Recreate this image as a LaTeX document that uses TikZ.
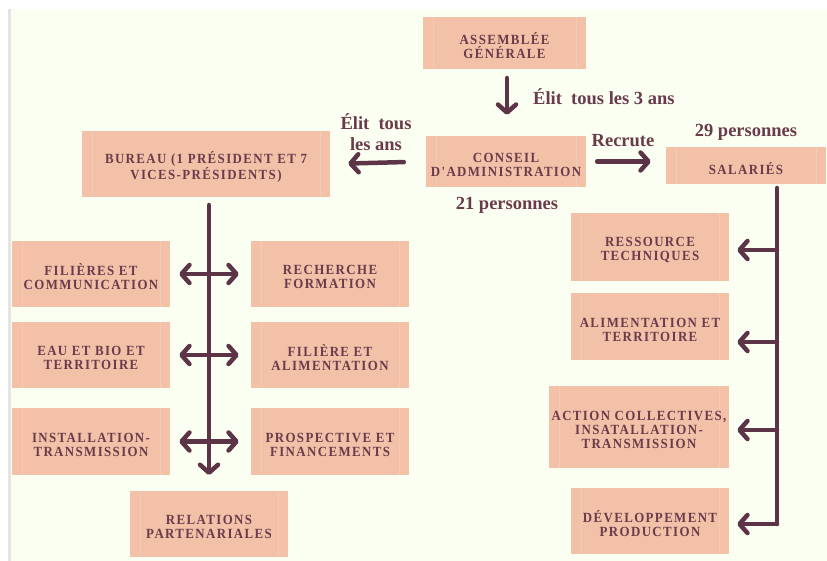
\documentclass[tikz,border=0pt]{standalone}
\usepackage{fontspec}
\setmainfont{Liberation Serif}
\newfontfamily\boxf[LetterSpace=10,FakeStretch=0.92]{Liberation Serif}
\usetikzlibrary{arrows.meta}
\definecolor{cream}{HTML}{FAFFF1}
\definecolor{edgegrey}{HTML}{E4E4E4}
\definecolor{boxc}{HTML}{F3C1A8}
\definecolor{stripe}{HTML}{F5C9B4}
\definecolor{txt}{HTML}{6A3B4B}
\definecolor{arrc}{HTML}{5D3347}
\tikzset{
  boxtext/.style={text=txt, inner sep=0pt, align=center, yshift=-3pt,
    font=\boxf\bfseries\fontsize{14}{14}\selectfont},
  orgbox/.style={fill=boxc, inner sep=0pt,
    path picture={
      \draw[stripe, line width=0.6pt] ([xshift=10pt]path picture bounding box.north west) -- ([xshift=10pt]path picture bounding box.south west);
      \draw[stripe, line width=0.6pt] ([xshift=-10pt]path picture bounding box.north east) -- ([xshift=-10pt]path picture bounding box.south east);
    }},
  txtin/.style={label={[boxtext]center:{#1}}},
  lbl/.style={text=txt, inner sep=0pt, align=center,
    font=\bfseries\fontsize{18.5}{21.5}\selectfont},
  barb/.tip={Straight Barb[length=8pt,width=18pt,line cap=round,line join=round]},
  conn/.style={line width=4.5pt, draw=arrc, line cap=round},
  arr/.style={conn, -{barb}},
  dbl/.style={conn, {barb}-{barb}},
}
\begin{document}
\begin{tikzpicture}[x=1pt,y=-1pt]
\useasboundingbox (0,0) rectangle (827,561);
\fill[white] (0,0) rectangle (827,561);
\fill[edgegrey] (8,9) rectangle (11,561);
\fill[cream] (11,9) rectangle (827,561);

% top boxes
\node[orgbox, minimum width=163pt, minimum height=52pt, txtin={ASSEMBLÉE\\GÉNÉRALE}] (ag) at (504.5,43) {};
\node[orgbox, minimum width=160pt, minimum height=51pt, txtin={CONSEIL\\D'ADMINISTRATION}] (ca) at (506,161.5) {};
\node[orgbox, minimum width=248pt, minimum height=66pt, txtin={BUREAU (1 PRÉSIDENT ET 7\\VICES-PRÉSIDENTS)}] (bu) at (206,164) {};
\node[orgbox, minimum width=160pt, minimum height=37pt, txtin={SALARIÉS}] (sa) at (746,165.5) {};

% labels
\node[lbl, anchor=west] (l1) at (533,97) {Élit\ \ tous les 3 ans};
\node[lbl] (l2) at (376,132) {Élit\ \ tous\\les ans};
\node[lbl] (l3) at (623,141) {Recrute};
\node[lbl] (l4) at (746,132) {29 personnes};
\node[lbl] (l5) at (507,205) {21 personnes};

% left column boxes
\node[orgbox, minimum width=158pt, minimum height=66pt, txtin={FILIÈRES ET\\COMMUNICATION}] (f1) at (91,274) {};
\node[orgbox, minimum width=158pt, minimum height=66pt, txtin={RECHERCHE\\FORMATION}] (r1) at (330,274) {};
\node[orgbox, minimum width=158pt, minimum height=66pt, txtin={EAU ET BIO ET\\TERRITOIRE}] (f2) at (91,355) {};
\node[orgbox, minimum width=158pt, minimum height=66pt, txtin={FILIÈRE ET\\ALIMENTATION}] (r2) at (330,355) {};
\node[orgbox, minimum width=158pt, minimum height=67pt, txtin={INSTALLATION-\\TRANSMISSION}] (f3) at (91,441.5) {};
\node[orgbox, minimum width=158pt, minimum height=67pt, txtin={PROSPECTIVE ET\\FINANCEMENTS}] (r3) at (330,441.5) {};
\node[orgbox, minimum width=158pt, minimum height=66pt, txtin={RELATIONS\\PARTENARIALES}] (rp) at (209,524) {};

% right column boxes
\node[orgbox, minimum width=158pt, minimum height=68pt, txtin={RESSOURCE\\TECHNIQUES}] (rs) at (650,247) {};
\node[orgbox, minimum width=158pt, minimum height=67pt, txtin={ALIMENTATION ET\\TERRITOIRE}] (al) at (650,326.5) {};
\node[orgbox, minimum width=180pt, minimum height=82pt, txtin={ACTION COLLECTIVES,\\INSATALLATION-\\TRANSMISSION}] (ac) at (639,427) {};
\node[orgbox, minimum width=158pt, minimum height=66pt, txtin={DÉVELOPPEMENT\\PRODUCTION}] (dv) at (650,521) {};

% main arrows
\coordinate (agd) at (507,78);
\draw[arr, shorten >=21pt] (agd) -- (agd |- ca.north);
\draw[arr, shorten <=22pt, shorten >=18pt] (ca.west) -- (bu.east);
\draw[arr, shorten <=11pt, shorten >=15pt] (ca.east) -- (ca.east -| sa.west);

% left trunk
\coordinate (lt) at (209,205);
\coordinate (lb) at (209,475);
\draw[arr] (lt) -- (lb);
\draw[dbl, shorten <=9pt, shorten >=12pt] (f1.east) -- (r1.west);
\draw[dbl, shorten <=9pt, shorten >=12pt] (f2.east) -- (r2.west);
\draw[dbl, shorten <=9pt, shorten >=12pt] (f3.east) -- (r3.west);

% right trunk
\coordinate (rt) at (777,188);
\coordinate (rb) at (777,524);
\draw[conn] (rt) -- (rb);
\coordinate (a1) at (777,250);
\coordinate (a2) at (777,342);
\coordinate (a3) at (777,430);
\draw[arr, shorten >=8pt] (a1) -- (a1 -| rs.east);
\draw[arr, shorten >=8pt] (a2) -- (a2 -| al.east);
\draw[arr, shorten >=8pt] (a3) -- (a3 -| ac.east);
\draw[arr, shorten >=8pt, line join=round] (rb) -- (rb -| dv.east);
\end{tikzpicture}
\end{document}
